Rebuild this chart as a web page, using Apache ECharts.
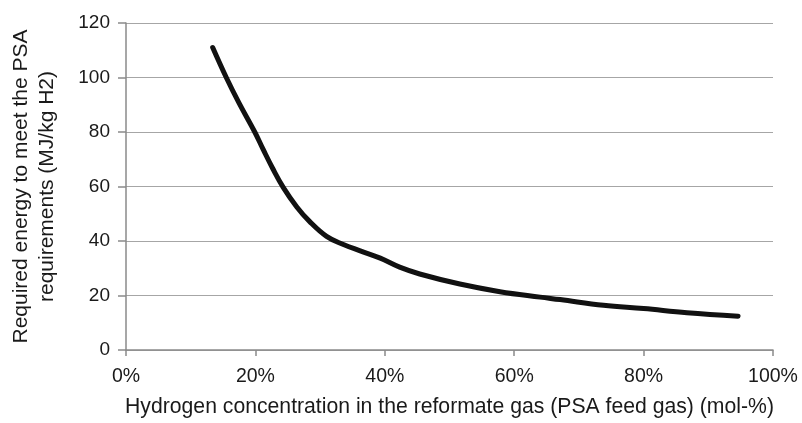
<!DOCTYPE html>
<html>
<head>
<meta charset="utf-8">
<script src="https://cdn.jsdelivr.net/npm/echarts@6/dist/echarts.min.js"></script>
<style>
html,body{margin:0;padding:0;background:#fff;overflow:hidden;}
#chart{width:802px;height:423px;}
</style>
</head>
<body>
<div id="chart"></div>
<script>
// Hydrogen concentration (mol-%)
var h2Concentration = [13.4, 15.5, 17.5, 19.9, 21.2, 22.7, 24.3, 26.4, 28.4, 31.0, 33.6, 36.2, 39.3, 42.3, 45.4, 51.6, 57.8, 64.0, 67.1, 73.8, 80.0, 86.7, 94.6];
// Required energy (MJ/kg H2)
var requiredEnergy = [111.0, 100.0, 90.5, 80.0, 73.6, 66.5, 59.7, 52.5, 47.1, 41.7, 38.7, 36.4, 33.7, 30.4, 27.9, 24.2, 21.4, 19.4, 18.5, 16.4, 15.2, 13.7, 12.4];
var xTicks = [0, 20, 40, 60, 80, 100];
var yTicks = [0, 20, 40, 60, 80, 100, 120];
var xTitle = 'Hydrogen concentration in the reformate gas (PSA feed gas) (mol-%)';
var yTitle = 'Required energy to meet the PSA\nrequirements (MJ/kg H2)';

var points = h2Concentration.map(function (x, i) { return [x, requiredEnergy[i]]; });
var font = 'Liberation Sans, Arial, Helvetica, sans-serif';

var chart = echarts.init(document.getElementById('chart'), null, {renderer: 'canvas'});
chart.setOption({
  animation: false,
  backgroundColor: '#fff',
  grid: {left: 126, right: 29, top: 23, bottom: 68, containLabel: false},
  xAxis: {
    type: 'value',
    min: xTicks[0], max: xTicks[xTicks.length - 1], interval: 20,
    name: xTitle,
    nameLocation: 'middle',
    nameGap: 47,
    nameTextStyle: {fontFamily: font, fontSize: 21.2, color: '#1a1a1a'},
    axisLine: {show: true, lineStyle: {color: '#8a8a8a', width: 1.5}},
    axisTick: {show: true, length: 6, lineStyle: {color: '#8a8a8a', width: 1.5}},
    axisLabel: {fontFamily: font, fontSize: 19.5, color: '#1a1a1a', margin: 17, formatter: '{value}%'},
    splitLine: {show: false}
  },
  yAxis: {
    type: 'value',
    min: yTicks[0], max: yTicks[yTicks.length - 1], interval: 20,
    name: yTitle,
    nameLocation: 'middle',
    nameGap: 66,
    nameTextStyle: {fontFamily: font, fontSize: 21, color: '#1a1a1a', lineHeight: 26, align: 'center'},
    axisLine: {show: true, lineStyle: {color: '#8a8a8a', width: 1.5}},
    axisTick: {show: true, length: 8, lineStyle: {color: '#8a8a8a', width: 1.5}},
    axisLabel: {fontFamily: font, fontSize: 19, color: '#1a1a1a', margin: 16},
    splitLine: {show: true, lineStyle: {color: '#a6a6a6', width: 1.2}}
  },
  series: [{
    type: 'line',
    data: points,
    smooth: 0.4,
    symbol: 'none',
    lineStyle: {color: '#111', width: 5, cap: 'round', join: 'round'}
  }]
});
</script>
</body>
</html>
